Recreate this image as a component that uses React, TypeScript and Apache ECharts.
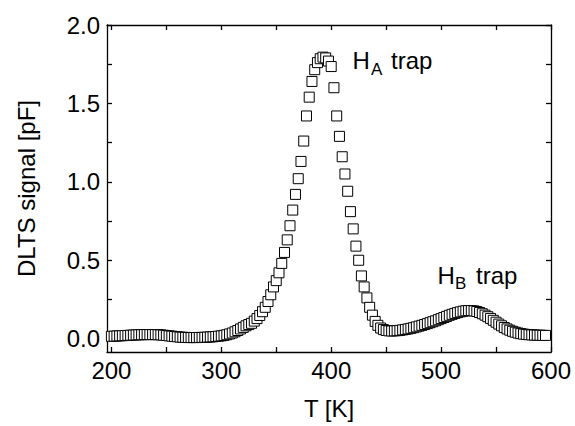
import React, { useEffect, useRef } from "react";
import * as echarts from "echarts";

// [T (K), DLTS signal (pF)]
const dltsSignal: [number, number][] = [
  [200, 0.015], [202.5, 0.016], [205, 0.017], [207.5, 0.018], [210, 0.019],
  [212.5, 0.02], [215, 0.021], [217.5, 0.022], [220, 0.023], [222.5, 0.024],
  [225, 0.025], [227.5, 0.025], [230, 0.026], [232.5, 0.026], [235, 0.026],
  [237.5, 0.026], [240, 0.026], [242.5, 0.025], [245, 0.024], [247.5, 0.022],
  [250, 0.02], [252.5, 0.018], [255, 0.016], [257.5, 0.014], [260, 0.012],
  [262.5, 0.01], [265, 0.009], [267.5, 0.008], [270, 0.007], [272.5, 0.007],
  [275, 0.007], [277.5, 0.007], [280, 0.008], [282.5, 0.008], [285, 0.009],
  [287.5, 0.01], [290, 0.011], [292.5, 0.012], [295, 0.014], [297.5, 0.016],
  [300, 0.018], [302.5, 0.021], [305, 0.025], [307.5, 0.03], [310, 0.036],
  [312.5, 0.044], [315, 0.052], [317.5, 0.062], [320, 0.072], [322.5, 0.082],
  [325, 0.09], [327.5, 0.098], [330, 0.112], [332.5, 0.128], [335, 0.148],
  [337.5, 0.172], [340, 0.2], [342.5, 0.237], [345, 0.28], [347.5, 0.33],
  [350, 0.37], [352.5, 0.42], [355, 0.48], [357.5, 0.55], [360, 0.63],
  [362.5, 0.72], [365, 0.82], [367.5, 0.92], [370, 1.02], [372.5, 1.13],
  [375, 1.26], [377.5, 1.42], [380, 1.54], [382.5, 1.64], [385, 1.715],
  [387.5, 1.76], [390, 1.785], [392.5, 1.795], [395, 1.79], [397.5, 1.77],
  [400, 1.735], [402.5, 1.6], [405, 1.42], [407.5, 1.29], [410, 1.16],
  [412.5, 1.05], [415, 0.94], [417.5, 0.81], [420, 0.7], [422.5, 0.59],
  [425, 0.5], [427.5, 0.4], [430, 0.33], [432.5, 0.26], [435, 0.2],
  [437.5, 0.15], [440, 0.11], [442.5, 0.085], [445, 0.068], [447.5, 0.058],
  [450, 0.052], [452.5, 0.05], [455, 0.049], [457.5, 0.05], [460, 0.051],
  [462.5, 0.053], [465, 0.056], [467.5, 0.059], [470, 0.062], [472.5, 0.066],
  [475, 0.07], [477.5, 0.075], [480, 0.08], [482.5, 0.085], [485, 0.09],
  [487.5, 0.096], [490, 0.102], [492.5, 0.108], [495, 0.114], [497.5, 0.121],
  [500, 0.128], [502.5, 0.135], [505, 0.142], [507.5, 0.149], [510, 0.155],
  [512.5, 0.161], [515, 0.166], [517.5, 0.171], [520, 0.175], [522.5, 0.178],
  [525, 0.179], [527.5, 0.179], [530, 0.177], [532.5, 0.173], [535, 0.167],
  [537.5, 0.159], [540, 0.15], [542.5, 0.14], [545, 0.129], [547.5, 0.117],
  [550, 0.105], [552.5, 0.093], [555, 0.082], [557.5, 0.071], [560, 0.062],
  [562.5, 0.054], [565, 0.047], [567.5, 0.041], [570, 0.036], [572.5, 0.032],
  [575, 0.029], [577.5, 0.027], [580, 0.025], [582.5, 0.024], [585, 0.023],
  [587.5, 0.022], [590, 0.022], [592.5, 0.021], [595, 0.021],
];

const xLabelValues = [200, 300, 400, 500, 600];
const xTickValues = [200, 250, 300, 350, 400, 450, 500, 550, 600];
const yLabelValues = [0, 0.5, 1, 1.5, 2];
const yTickValues = [0, 0.25, 0.5, 0.75, 1, 1.25, 1.5, 1.75, 2];

const xName = "T [K]";
const yName = "DLTS signal [pF]";

const FONT = "'Liberation Sans', Arial, Helvetica, sans-serif";

export default function App() {
  const ref = useRef<HTMLDivElement>(null);

  useEffect(() => {
    if (!ref.current) return;
    const chart = echarts.init(ref.current, undefined, { renderer: "svg" });
    const lineStyle = { color: "#000", width: 1.3 };
    const tick = (vals: number[]) => ({
      show: true,
      inside: true,
      length: 5,
      customValues: vals,
      lineStyle: { color: "#000", width: 1.3 },
    });
    const annFont = 24;
    const subFont = 17;
    const txt = (text: string, x: number, y: number, size: number) => ({
      type: "text",
      x,
      y,
      style: { text, fontSize: size, fontFamily: FONT, fill: "#000", verticalAlign: "middle" },
    });
    const option: any = {
      animation: false,
      backgroundColor: "#fff",
      grid: { left: 107, right: 24, top: 25, bottom: 74, containLabel: false },
      xAxis: [
        {
          type: "value",
          min: 196,
          max: 600,
          position: "bottom",
          axisLine: { show: true, onZero: false, lineStyle },
          axisTick: tick(xTickValues),
          axisLabel: {
            customValues: xLabelValues,
            fontSize: 24,
            color: "#000",
            margin: 6,
            fontFamily: FONT,
          },
          splitLine: { show: false },
          name: xName,
          nameLocation: "middle",
          nameGap: 44,
          nameTextStyle: { fontSize: 24, color: "#000", fontFamily: FONT },
        },
        {
          type: "value",
          min: 196,
          max: 600,
          position: "top",
          axisLine: { show: true, onZero: false, lineStyle },
          axisTick: tick(xTickValues),
          axisLabel: { show: false },
          splitLine: { show: false },
        },
      ],
      yAxis: [
        {
          type: "value",
          min: -0.085,
          max: 2.0,
          position: "left",
          axisLine: { show: true, onZero: false, lineStyle },
          axisTick: tick(yTickValues),
          axisLabel: {
            customValues: yLabelValues,
            fontSize: 24,
            color: "#000",
            margin: 7,
            fontFamily: FONT,
            formatter: (v: number) => v.toFixed(1),
          },
          splitLine: { show: false },
          name: yName,
          nameLocation: "middle",
          nameGap: 69,
          nameRotate: 90,
          nameTextStyle: { fontSize: 24, color: "#000", fontFamily: FONT },
        },
        {
          type: "value",
          min: -0.085,
          max: 2.0,
          position: "right",
          axisLine: { show: true, onZero: false, lineStyle },
          axisTick: tick(yTickValues),
          axisLabel: { show: false },
          splitLine: { show: false },
        },
      ],
      series: [
        {
          type: "scatter",
          xAxisIndex: 0,
          yAxisIndex: 0,
          data: dltsSignal,
          symbol: "rect",
          symbolSize: 10,
          itemStyle: { color: "#fff", borderColor: "#000", borderWidth: 1, opacity: 1 },
          emphasis: { disabled: true },
        },
      ],
      graphic: [
        txt("H", 352.5, 60, annFont),
        txt("A", 371, 69, subFont),
        txt("trap", 391, 60, annFont),
        txt("H", 437.5, 275, annFont),
        txt("B", 455, 283, subFont),
        txt("trap", 476, 275, annFont),
      ],
    };
    chart.setOption(option);
    return () => chart.dispose();
  }, []);

  return (
    <div
      ref={ref}
      style={{ position: "fixed", left: 0, top: 0, width: 575, height: 426, background: "#fff" }}
    />
  );
}
